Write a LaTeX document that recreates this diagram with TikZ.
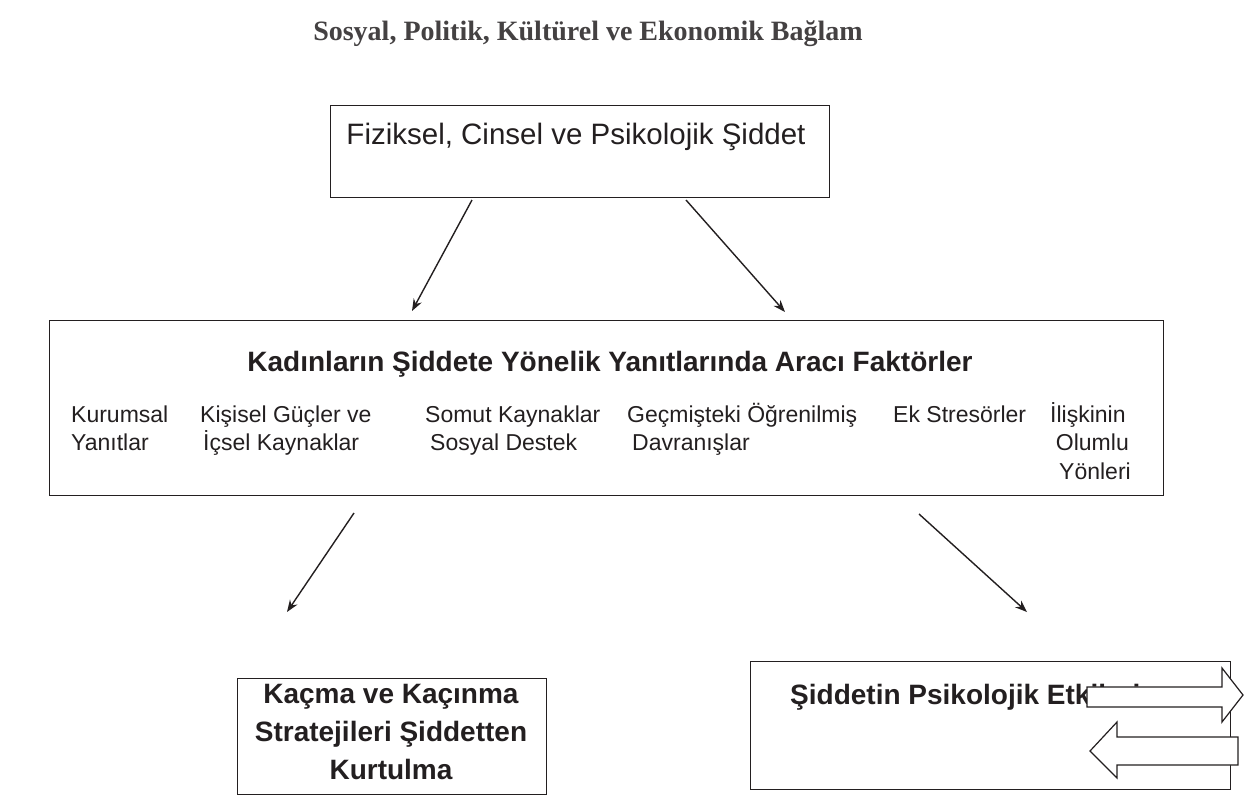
\documentclass[tikz,border=0pt]{standalone}
\usepackage{fontspec}
\setmainfont{Liberation Serif}
\setsansfont{Liberation Sans}
\usetikzlibrary{arrows.meta}
\definecolor{ink}{HTML}{231F20}
\tikzset{
  box/.style={draw=ink, line width=1.4pt, inner sep=0pt, anchor=north west},
  lbl/.style={text=ink, font=\sffamily\fontsize{23}{28.5}\selectfont, inner sep=0pt, anchor=base west},
  lblr/.style={lbl, anchor=base east},
  big/.style={text=ink, font=\sffamily\bfseries\fontsize{28}{38}\selectfont, inner sep=0pt, anchor=base},
  conn/.style={draw=ink, line width=1.4pt, -{Stealth[length=12pt,width=9pt]}},
  blockarrow/.style={draw=ink, line width=1.2pt, fill=white}
}
\begin{document}
\begin{tikzpicture}[x=1pt,y=-1pt]
\useasboundingbox (0,0) rectangle (1248,796);
% title
\node[text=ink!85, font=\bfseries\fontsize{28}{32}\selectfont, inner sep=0pt, anchor=base] (title) at (588,40) {Sosyal, Politik, Kültürel ve Ekonomik Bağlam};
% top box
\node[box, minimum width=499pt, minimum height=92pt] (top) at (330,105) {};
\node[text=ink, font=\sffamily\fontsize{29.5}{32}\selectfont, inner sep=0pt, anchor=base] (toptext) at (576,144) {Fiziksel, Cinsel ve Psikolojik Şiddet};
% middle box
\node[box, minimum width=1114pt, minimum height=175pt] (mid) at (49,320) {};
\node[text=ink, font=\sffamily\bfseries\fontsize{28}{32}\selectfont, inner sep=0pt, anchor=base] (midtitle) at (610,371) {Kadınların Şiddete Yönelik Yanıtlarında Aracı Faktörler};
\node[lbl] (c1a) at (71,422) {Kurumsal};
\node[lbl] (c1b) at (71,450.5) {Yanıtlar};
\node[lbl] (c2a) at (200,422) {Kişisel Güçler ve};
\node[lbl] (c2b) at (203,450.5) {İçsel Kaynaklar};
\node[lbl] (c3a) at (425,422) {Somut Kaynaklar};
\node[lbl] (c3b) at (430,450.5) {Sosyal Destek};
\node[lbl] (c4a) at (627,422) {Geçmişteki Öğrenilmiş};
\node[lbl] (c4b) at (632,450.5) {Davranışlar};
\node[lbl] (c5a) at (893,422) {Ek Stresörler};
\node[lbl] (c6a) at (1050,422) {İlişkinin};
\node[lblr] (c6b) at (1129,450.5) {Olumlu};
\node[lblr] (c6c) at (1131,479) {Yönleri};
% bottom boxes
\node[box, minimum width=309pt, minimum height=116pt] (bl) at (237,678) {};
\node[big] (bl1) at (391,703) {Kaçma ve Kaçınma};
\node[big] (bl2) at (391,741) {Stratejileri Şiddetten};
\node[big] (bl3) at (391,779) {Kurtulma};
\node[box, minimum width=480pt, minimum height=128pt] (br) at (750,661) {};
\node[big, anchor=base west] (brtext) at (790,704) {Şiddetin Psikolojik Etkileri};
% block arrows
\draw[blockarrow] (1087,687) -- (1222,687) -- (1222,668) -- (1243,695) -- (1222,722) -- (1222,707) -- (1087,707) -- cycle;
\draw[blockarrow] (1238,737) -- (1117,737) -- (1117,722) -- (1090,751) -- (1117,778) -- (1117,765) -- (1238,765) -- cycle;
% connectors
\coordinate (a1s) at (472,200); \coordinate (a1e) at (412,311);
\coordinate (a2s) at (686,200); \coordinate (a2e) at (785,312);
\coordinate (a3s) at (354,513); \coordinate (a3e) at (287,612);
\coordinate (a4s) at (919,514); \coordinate (a4e) at (1027,612);
\draw[conn] (a1s) -- (a1e);
\draw[conn] (a2s) -- (a2e);
\draw[conn] (a3s) -- (a3e);
\draw[conn] (a4s) -- (a4e);
\end{tikzpicture}
\end{document}
